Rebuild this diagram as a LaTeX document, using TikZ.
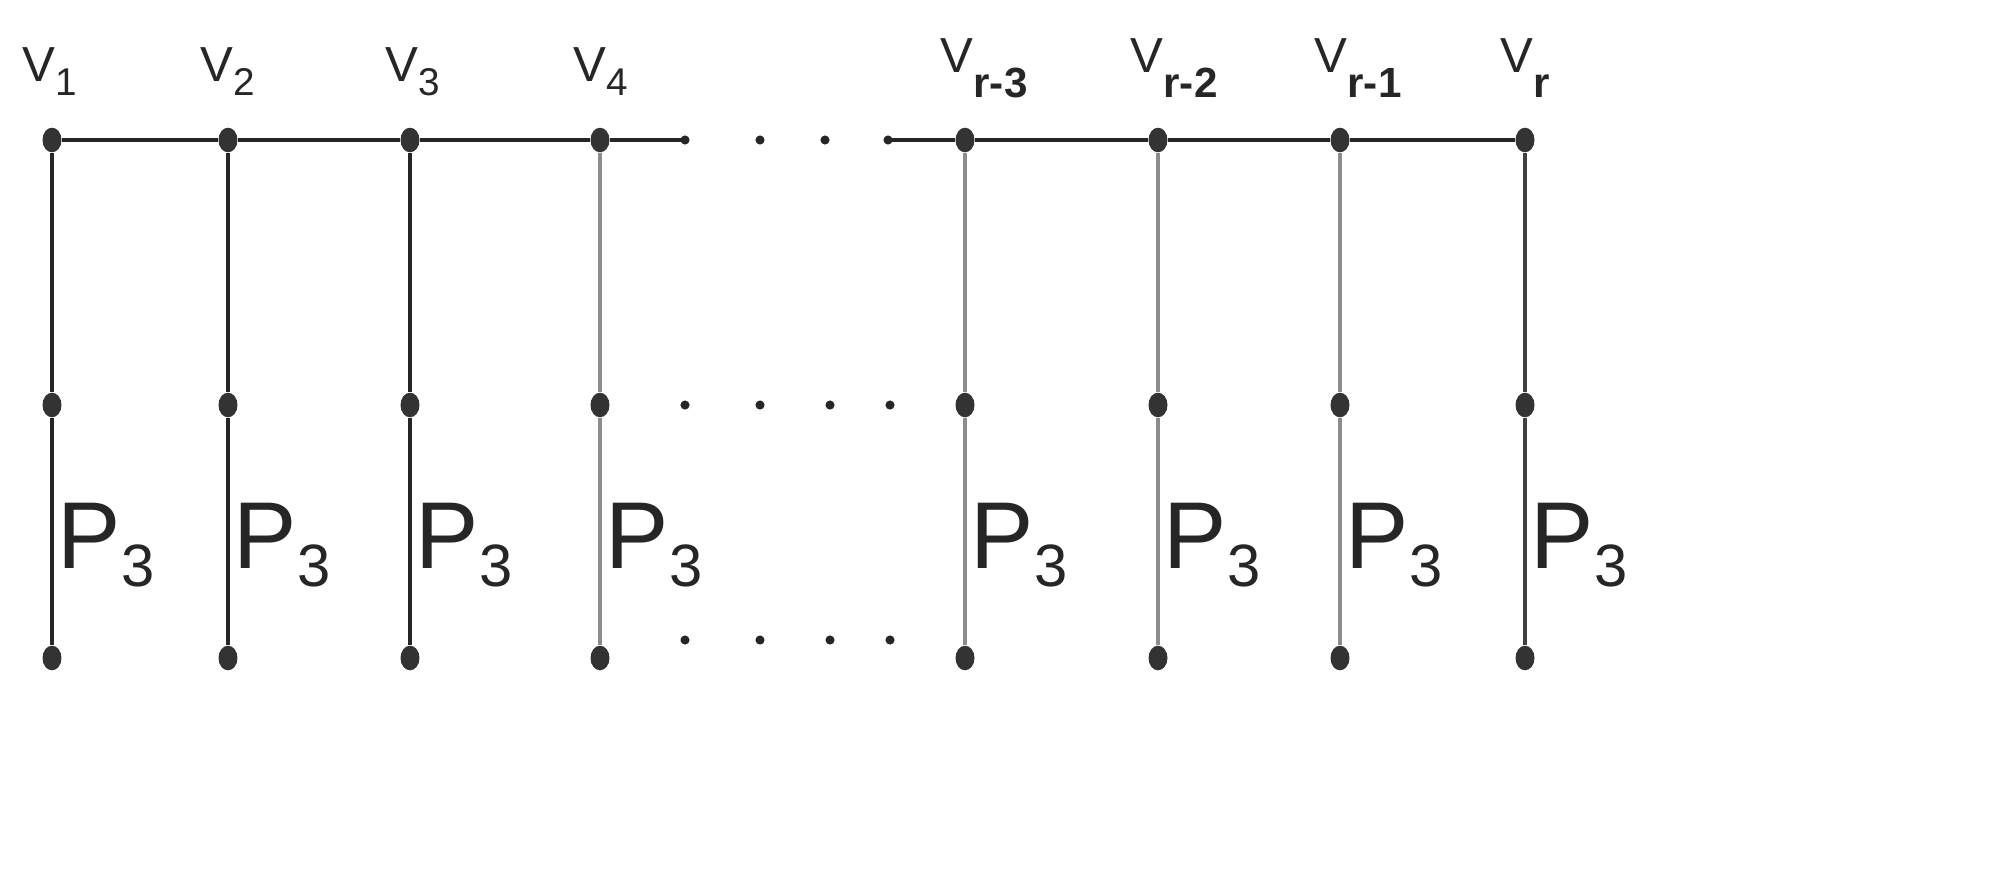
\documentclass[tikz,border=0pt]{standalone}
\usetikzlibrary{shapes.geometric}
\usepackage{fontspec}
\setmainfont{Liberation Sans}
\begin{document}
\begin{tikzpicture}[x=0.01cm,y=-0.01cm,
  vtx/.style={ellipse,fill=black!80,inner sep=0pt,minimum width=5.4pt,minimum height=7pt},
  sdot/.style={circle,fill=black!85,inner sep=0pt,minimum size=2.6pt},
  lab/.style={font=\fontsize{14}{14}\selectfont,text=black!85,inner sep=0pt},
  plab/.style={font=\fontsize{27}{27}\selectfont,text=black!85,anchor=west,inner sep=0pt}]
\useasboundingbox (0,0) rectangle (1990,884);
\coordinate (L) at (685,140);
\coordinate (R) at (888,140);
\foreach \x/\i/\c in {52/1/black!85,228/2/black!85,410/3/black!85,600/4/black!45,965/5/black!45,1158/6/black!45,1340/7/black!45,1525/8/black!75}{
  \node[vtx] (a\i) at (\x,140) {};
  \node[vtx] (b\i) at (\x,405) {};
  \node[vtx] (c\i) at (\x,658) {};
  \draw[line width=0.9pt,\c] (a\i) -- (b\i) -- (c\i);
  \node[plab] (p\i) at (\x+5,545) {P\raisebox{-5pt}{\fontsize{17}{17}\selectfont 3}};
}
\draw[line width=1.1pt,black!85] (a1) -- (a2) -- (a3) -- (a4) -- (L);
\draw[line width=1.1pt,black!85] (R) -- (a5) -- (a6) -- (a7) -- (a8);
\node[sdot] (l) at (L) {}; \node[sdot] (r) at (R) {};
\node[sdot] (t1) at (760,140) {}; \node[sdot] (t2) at (825,140) {};
\foreach \x [count=\k] in {685,760,830,890}{
  \node[sdot] (m\k) at (\x,405) {};
  \node[sdot] (d\k) at (\x,640) {};
}
\node[lab,anchor=west] (v1) at (22,72) {V\raisebox{-4pt}{\fontsize{11}{11}\selectfont 1}};
\node[lab,anchor=west] (v2) at (200,72) {V\raisebox{-4pt}{\fontsize{11}{11}\selectfont 2}};
\node[lab,anchor=west] (v3) at (385,72) {V\raisebox{-4pt}{\fontsize{11}{11}\selectfont 3}};
\node[lab,anchor=west] (v4) at (573,72) {V\raisebox{-4pt}{\fontsize{11}{11}\selectfont 4}};
\node[lab,anchor=west] (v5) at (940,68) {V\raisebox{-7pt}{\fontsize{12}{12}\selectfont\bfseries r-3}};
\node[lab,anchor=west] (v6) at (1130,68) {V\raisebox{-7pt}{\fontsize{12}{12}\selectfont\bfseries r-2}};
\node[lab,anchor=west] (v7) at (1314,68) {V\raisebox{-7pt}{\fontsize{12}{12}\selectfont\bfseries r-1}};
\node[lab,anchor=west] (v8) at (1500,68) {V\raisebox{-7pt}{\fontsize{12}{12}\selectfont\bfseries r}};
\end{tikzpicture}
\end{document}
